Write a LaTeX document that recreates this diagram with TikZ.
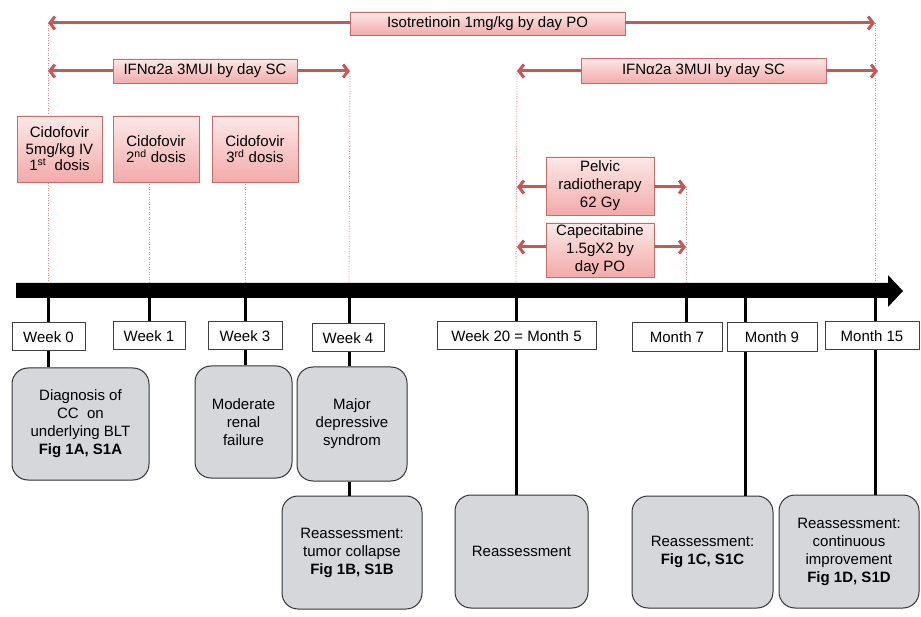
\documentclass[tikz,border=0pt]{standalone}
\usepackage{fontspec}
\setmainfont{Liberation Sans}
\usetikzlibrary{arrows.meta}
\definecolor{pinkline}{RGB}{200,88,88}
\definecolor{pinkedge}{RGB}{205,105,105}
\definecolor{pinktop}{RGB}{252,232,232}
\definecolor{pinkbot}{RGB}{243,170,170}
\definecolor{grayfill}{RGB}{213,215,218}
\definecolor{dotcol}{RGB}{225,135,135}
\begin{document}
\begin{tikzpicture}[x=1pt,y=-1pt,
  font=\fontsize{15}{18}\selectfont,
  pinkbox/.style={draw=pinkedge, line width=0.8pt, top color=pinktop, bottom color=pinkbot, align=center, inner sep=0pt, anchor=center},
  weekbox/.style={draw=black!75, line width=1pt, fill=white, inner sep=0pt, anchor=center, minimum height=28pt},
  graybox/.style={draw=black!80, line width=1pt, fill=grayfill, rounded corners=16pt, align=center, inner sep=0pt, anchor=center},
  drug/.style={draw=pinkline, line width=3pt, -{Straight Barb[length=5pt,width=13pt]}},
  guide/.style={draw=dotcol, line width=0.8pt, dash pattern=on 1pt off 1.5pt},
  tick/.style={draw=black, line width=3pt}
]
\useasboundingbox (0,0) rectangle (921,617);

% coordinates on bar and arrow ends
\coordinate (isoL) at (48,23);
\coordinate (isoR) at (875,23);
\coordinate (ifnaL) at (48,71);
\coordinate (ifnaR) at (350,71);
\coordinate (ifnbL) at (517,71);
\coordinate (ifnbR) at (878,71);
\coordinate (pelL) at (517,187);
\coordinate (pelR) at (686,187);
\coordinate (capL) at (517,247);
\coordinate (capR) at (686,247);

\coordinate (b0) at (48,284);
\coordinate (b1) at (149,284);
\coordinate (b3) at (245,284);
\coordinate (b4) at (349,284);
\coordinate (b20) at (516,284);
\coordinate (b7) at (686,284);
\coordinate (b9) at (745,284);
\coordinate (b15) at (875,284);

% dotted guides (behind)
\draw[guide] (isoL) -- (b0);
\draw[guide] (149,182) -- (b1);
\draw[guide] (245,182) -- (b3);
\draw[guide] (ifnaR) -- (b4);
\draw[guide] (ifnbL) -- (b20);
\draw[guide] (pelR) -- (b7);
\draw[guide] (isoR) -- (b15);

% pink boxes
\node[pinkbox, minimum width=275pt, minimum height=23pt] (iso) at (487.5,23.5) {Isotretinoin 1mg/kg by day PO};
\node[pinkbox, minimum width=184pt, minimum height=24pt] (ifna) at (205,71) {IFNα2a 3MUI by day SC};
\node[pinkbox, minimum width=245pt, minimum height=25pt] (ifnb) at (703.5,71) {IFNα2a 3MUI by day SC};
\node[pinkbox, minimum width=85pt, minimum height=66pt, font=\fontsize{15}{16.5}\selectfont] (cid1) at (59.5,149) {Cidofovir\\5mg/kg IV\\1\textsuperscript{st}\ \ dosis};
\node[pinkbox, minimum width=86pt, minimum height=66pt, font=\fontsize{15}{16.5}\selectfont] (cid2) at (156,149) {Cidofovir\\2\textsuperscript{nd} dosis};
\node[pinkbox, minimum width=86pt, minimum height=66pt, font=\fontsize{15}{16.5}\selectfont] (cid3) at (255,149) {Cidofovir\\3\textsuperscript{rd} dosis};
\node[pinkbox, minimum width=108pt, minimum height=58pt] (pel) at (600,186) {Pelvic\\radiotherapy\\62 Gy};
\node[pinkbox, minimum width=108pt, minimum height=54pt] (cap) at (600,250) {Capecitabine\\1.5gX2 by\\day PO};

% drug arrows
\draw[drug] (iso.west |- isoL) -- (isoL);
\draw[drug] (iso.east |- isoR) -- (isoR);
\draw[drug] (ifna.west |- ifnaL) -- (ifnaL);
\draw[drug] (ifna.east |- ifnaR) -- (ifnaR);
\draw[drug] (ifnb.west |- ifnbL) -- (ifnbL);
\draw[drug] (ifnb.east |- ifnbR) -- (ifnbR);
\draw[drug] (pel.west |- pelL) -- (pelL);
\draw[drug] (pel.east |- pelR) -- (pelR);
\draw[drug] (cap.west |- capL) -- (capL);
\draw[drug] (cap.east |- capR) -- (capR);

% week boxes
\node[weekbox, minimum width=73pt] (w0) at (48.5,337) {Week 0};
\node[weekbox, minimum width=72pt] (w1) at (149,336) {Week 1};
\node[weekbox, minimum width=74pt] (w3) at (245,336) {Week 3};
\node[weekbox, minimum width=72pt] (w4) at (348,338) {Week 4};
\node[weekbox, minimum width=159pt] (w20) at (516.5,336) {Week 20 = Month 5};
\node[weekbox, minimum width=90pt, minimum height=29pt] (m7) at (677,337.5) {Month 7};
\node[weekbox, minimum width=90pt, minimum height=29pt] (m9) at (772,337.5) {Month 9};
\node[weekbox, minimum width=94pt] (m15) at (872,336) {Month 15};

% gray boxes
\node[graybox, minimum width=137pt, minimum height=112pt] (diag) at (80.5,424) {Diagnosis of\\CC\ \ on\\underlying BLT\\\textbf{Fig 1A, S1A}};
\node[graybox, minimum width=97pt, minimum height=112pt] (mod) at (243.5,422) {Moderate\\renal\\failure};
\node[graybox, minimum width=110pt, minimum height=114pt] (maj) at (352,424) {Major\\depressive\\syndrom};
\node[graybox, minimum width=140pt, minimum height=113pt] (r1) at (352,552.5) {Reassessment:\\tumor collapse\\\textbf{Fig 1B, S1B}};
\node[graybox, minimum width=133pt, minimum height=113pt] (r2) at (521.5,551.5) {Reassessment};
\node[graybox, minimum width=141pt, minimum height=112pt] (r3) at (702.5,552) {Reassessment:\\\textbf{Fig 1C, S1C}};
\node[graybox, minimum width=140pt, minimum height=113pt] (r4) at (849,551.5) {Reassessment:\\continuous\\improvement\\\textbf{Fig 1D, S1D}};

% ticks from bar to week boxes
\draw[tick] (b0) -- (b0 |- w0.north);
\draw[tick] (b1) -- (b1 |- w1.north);
\draw[tick] (b3) -- (b3 |- w3.north);
\draw[tick] (b4) -- (b4 |- w4.north);
\draw[tick] (b20) -- (b20 |- w20.north);
\draw[tick] (b7) -- (b7 |- m7.north);
\draw[tick] (b9) -- (b9 |- m9.north);
\draw[tick] (b15) -- (b15 |- m15.north);

% week boxes to events
\draw[tick] (w0.south -| b0) -- (diag.north -| b0);
\draw[tick] (w3.south -| b3) -- (mod.north -| b3);
\draw[tick] (w4.south -| b4) -- (maj.north -| b4);
\draw[tick] (maj.south -| b4) -- (r1.north -| b4);
\draw[tick] (w20.south -| b20) -- (r2.north -| b20);
\draw[tick] (m9.south -| b9) -- (r3.north -| b9);
\draw[tick] (m15.south -| b15) -- (r4.north -| b15);

% timeline bar
\fill[black] (16,283) -- (888,283) -- (888,275) -- (903,291) -- (888,307) -- (888,298) -- (16,298) -- cycle;
\end{tikzpicture}
\end{document}
